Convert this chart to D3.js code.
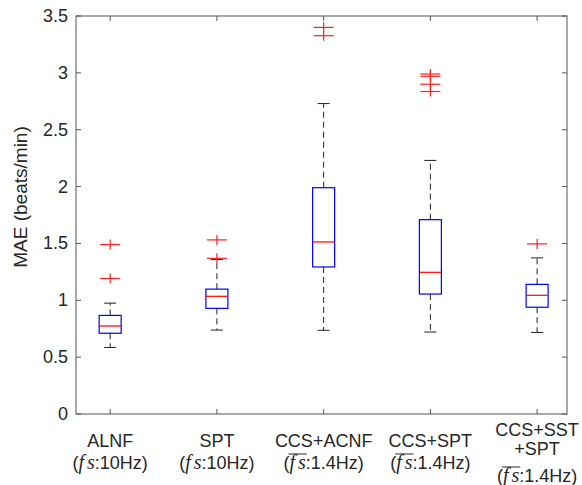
<!DOCTYPE html>
<html>
<head>
<meta charset="utf-8">
<script src="https://cdn.jsdelivr.net/npm/d3@7"></script>
<style>
  body { margin: 0; background: #fff; }
  text { font-family: Arial, "Liberation Sans", sans-serif; fill: #262626; }
</style>
</head>
<body>
<div id="chart-container"></div>
<script>
// DATA
var categories = ["ALNF", "SPT", "CCS+ACNF", "CCS+SPT", "CCS+SST+SPT"];
var whiskerLow  = [0.585, 0.738, 0.736, 0.721, 0.717];
var q1          = [0.71, 0.929, 1.293, 1.055, 0.939];
var medians     = [0.774, 1.035, 1.513, 1.246, 1.044];
var q3          = [0.867, 1.098, 1.99, 1.709, 1.14];
var whiskerHigh = [0.975, 1.358, 2.73, 2.23, 1.373];
var outliers = [
  [1.192, 1.49],
  [1.369, 1.531],
  [3.327, 3.40],
  [2.836, 2.90, 2.97, 2.99],
  [1.496]
];
var yTicks = [0, 0.5, 1, 1.5, 2, 2.5, 3, 3.5];
var yTickLabels = ["0", "0.5", "1", "1.5", "2", "2.5", "3", "3.5"];
// TICK LABEL LINES: plain lines, then the sampling-rate line
var labelLines = [["ALNF"], ["SPT"], ["CCS+ACNF"], ["CCS+SPT"], ["CCS+SST", "+SPT"]];
var rateLines = ["10Hz", "10Hz", "1.4Hz", "1.4Hz", "1.4Hz"];
var rateBar = [false, false, true, true, true];

var width = 582, height = 485;
var margin = {top: 16, right: 15, bottom: 71, left: 76};

var svg = d3.select("#chart-container").append("svg")
  .attr("width", width)
  .attr("height", height);

var xScale = d3.scaleLinear()
  .domain([0.68, 5.28])
  .range([margin.left, width - margin.right]);

var yScale = d3.scaleLinear()
  .domain([0, 3.5])
  .range([height - margin.bottom, margin.top]);

var boxW = 22, capW = 12, plusW = 10, plusH = 5;
var axisColor = "#555";

// BOXES
var g = svg.append("g");
categories.forEach(function(c, i){
  var cx = xScale(i + 1);

  // dashed whiskers
  g.append("line")
    .attr("x1", cx).attr("x2", cx)
    .attr("y1", yScale(q3[i])).attr("y2", yScale(whiskerHigh[i]))
    .attr("stroke", "#222").attr("stroke-width", 1)
    .attr("stroke-dasharray", "6,4");
  g.append("line")
    .attr("x1", cx).attr("x2", cx)
    .attr("y1", yScale(q1[i])).attr("y2", yScale(whiskerLow[i]))
    .attr("stroke", "#222").attr("stroke-width", 1)
    .attr("stroke-dasharray", "6,4");

  // caps
  [whiskerHigh[i], whiskerLow[i]].forEach(function(v){
    g.append("line")
      .attr("x1", cx - capW / 2).attr("x2", cx + capW / 2)
      .attr("y1", yScale(v)).attr("y2", yScale(v))
      .attr("stroke", "#222").attr("stroke-width", 1);
  });

  // box
  g.append("rect")
    .attr("x", cx - boxW / 2)
    .attr("y", yScale(q3[i]))
    .attr("width", boxW)
    .attr("height", yScale(q1[i]) - yScale(q3[i]))
    .attr("fill", "none")
    .attr("stroke", "#0000ff").attr("stroke-width", 1.2);

  // median
  g.append("line")
    .attr("x1", cx - boxW / 2).attr("x2", cx + boxW / 2)
    .attr("y1", yScale(medians[i])).attr("y2", yScale(medians[i]))
    .attr("stroke", "#ff0000").attr("stroke-width", 1.2);

  // outliers as red plus signs
  outliers[i].forEach(function(v){
    var y = yScale(v);
    g.append("line")
      .attr("x1", cx - plusW).attr("x2", cx + plusW)
      .attr("y1", y).attr("y2", y)
      .attr("stroke", "#ff2020").attr("stroke-width", 1.2);
    g.append("line")
      .attr("x1", cx).attr("x2", cx)
      .attr("y1", y - plusH).attr("y2", y + plusH)
      .attr("stroke", "#ff2020").attr("stroke-width", 1.2);
  });
});

// AXES FRAME AND TICKS
var x0 = xScale.range()[0], x1 = xScale.range()[1];
var y0 = yScale.range()[0], y1 = yScale.range()[1];

svg.append("rect")
  .attr("x", x0).attr("y", y1)
  .attr("width", x1 - x0).attr("height", y0 - y1)
  .attr("fill", "none").attr("stroke", axisColor).attr("stroke-width", 1);

var tickLen = 5;
yTicks.forEach(function(t, k){
  var y = yScale(t);
  svg.append("line").attr("x1", x0).attr("x2", x0 + tickLen)
    .attr("y1", y).attr("y2", y).attr("stroke", axisColor);
  svg.append("line").attr("x1", x1).attr("x2", x1 - tickLen)
    .attr("y1", y).attr("y2", y).attr("stroke", axisColor);
  svg.append("text")
    .attr("x", x0 - 8)
    .attr("y", y + 6)
    .attr("text-anchor", "end")
    .style("font-size", "18px")
    .text(yTickLabels[k]);
});

categories.forEach(function(c, i){
  var cx = xScale(i + 1);
  svg.append("line").attr("x1", cx).attr("x2", cx)
    .attr("y1", y0).attr("y2", y0 - tickLen).attr("stroke", axisColor);
  svg.append("line").attr("x1", cx).attr("x2", cx)
    .attr("y1", y1).attr("y2", y1 + tickLen).attr("stroke", axisColor);

  // multi-line tick labels
  var lines = labelLines[i];
  var base = lines.length > 1 ? 436 : 447;
  lines.forEach(function(l, j){
    svg.append("text")
      .attr("x", cx)
      .attr("y", base + j * 19)
      .attr("text-anchor", "middle")
      .style("font-size", "18px")
      .text(l);
  });
  var rateY = lines.length > 1 ? 482 : 469;
  var t = svg.append("text")
    .attr("x", cx)
    .attr("y", rateY)
    .attr("text-anchor", "middle")
    .style("font-size", "18px");
  t.append("tspan").text("(");
  t.append("tspan")
    .style("font-family", "'Liberation Serif', serif")
    .style("font-style", "italic")
    .style("font-size", "20px")
    .text("f");
  t.append("tspan")
    .attr("dx", 3)
    .style("font-family", "'Liberation Serif', serif")
    .style("font-style", "italic")
    .style("font-size", "20px")
    .text("s");
  t.append("tspan").text(":" + rateLines[i] + ")");

  if (rateBar[i]) {
    var node = t.node();
    var fx = node.getStartPositionOfChar(1).x;
    var sx = node.getEndPositionOfChar(2).x;
    svg.append("line")
      .attr("x1", fx - 1).attr("x2", sx + 1)
      .attr("y1", rateY - 15).attr("y2", rateY - 15)
      .attr("stroke", "#262626").attr("stroke-width", 1);
  }
});

// Y AXIS LABEL
svg.append("text")
  .attr("transform", "translate(27,197) rotate(-90)")
  .attr("text-anchor", "middle")
  .style("font-size", "19px")
  .text("MAE (beats/min)");
</script>
</body>
</html>
